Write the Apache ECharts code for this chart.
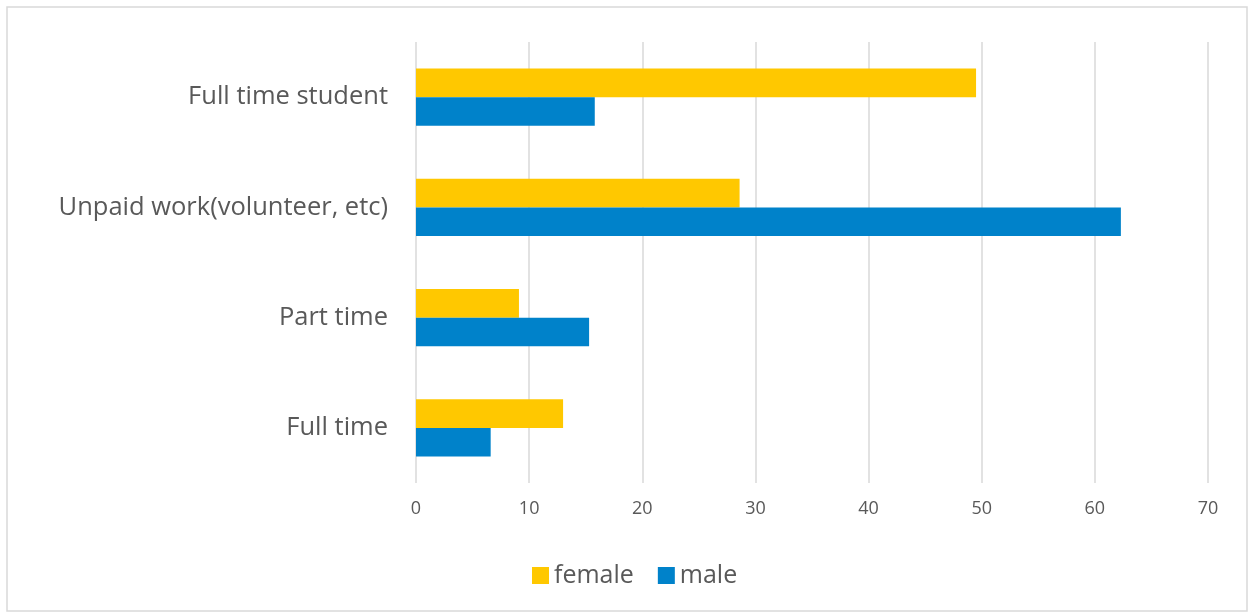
<!DOCTYPE html>
<html>
<head>
<meta charset="utf-8">
<script src="https://cdn.jsdelivr.net/npm/echarts@6/dist/echarts.min.js"></script>
<style>
  html, body { margin: 0; padding: 0; background: #fff; }
  #chart { width: 1253px; height: 615px; }
</style>
</head>
<body>
<div id="chart"></div>
<script>
// Categories listed bottom-to-top along the vertical axis
const categories = ['Full time', 'Part time', 'Unpaid work(volunteer, etc)', 'Full time student'];
const femaleValues = [13.0, 9.1, 28.6, 49.5];
const maleValues = [6.6, 15.3, 62.3, 15.8];
const xTicks = { min: 0, max: 70, interval: 10 };

const chart = echarts.init(document.getElementById('chart'));
const fontFamily = '"Open Sans", Lato, sans-serif';

chart.setOption({
  animation: false,
  backgroundColor: '#fff',
  graphic: [{
    type: 'rect',
    shape: { x: 7, y: 7, width: 1240, height: 604 },
    style: { fill: 'none', stroke: '#d9d9d9', lineWidth: 1.5 },
    silent: true
  }],
  grid: { left: 416, right: 45, top: 42, bottom: 132, containLabel: false },
  legend: {
    data: ['female', 'male'],
    top: 558,
    left: 527,
    itemWidth: 17,
    itemHeight: 17,
    itemGap: 24,
    icon: 'rect',
    textStyle: { color: '#595959', fontSize: 25, fontFamily: fontFamily }
  },
  xAxis: {
    type: 'value',
    min: xTicks.min,
    max: xTicks.max,
    interval: xTicks.interval,
    axisLine: { show: false },
    axisTick: { show: false },
    axisLabel: { color: '#595959', fontSize: 18, fontFamily: fontFamily, margin: 17 },
    splitLine: { show: true, lineStyle: { color: '#d9d9d9', width: 1.5 } }
  },
  yAxis: {
    type: 'category',
    data: categories,
    axisLine: { show: false },
    axisTick: { show: false },
    axisLabel: { color: '#595959', fontSize: 25.5, fontFamily: fontFamily, margin: 28 }
  },
  series: [
    {
      name: 'female',
      type: 'bar',
      data: femaleValues,
      itemStyle: { color: '#ffc800' },
      barGap: '0%',
      barCategoryGap: '48%'
    },
    {
      name: 'male',
      type: 'bar',
      data: maleValues,
      itemStyle: { color: '#0082ca' },
      barGap: '0%',
      barCategoryGap: '48%'
    }
  ]
});
</script>
</body>
</html>
